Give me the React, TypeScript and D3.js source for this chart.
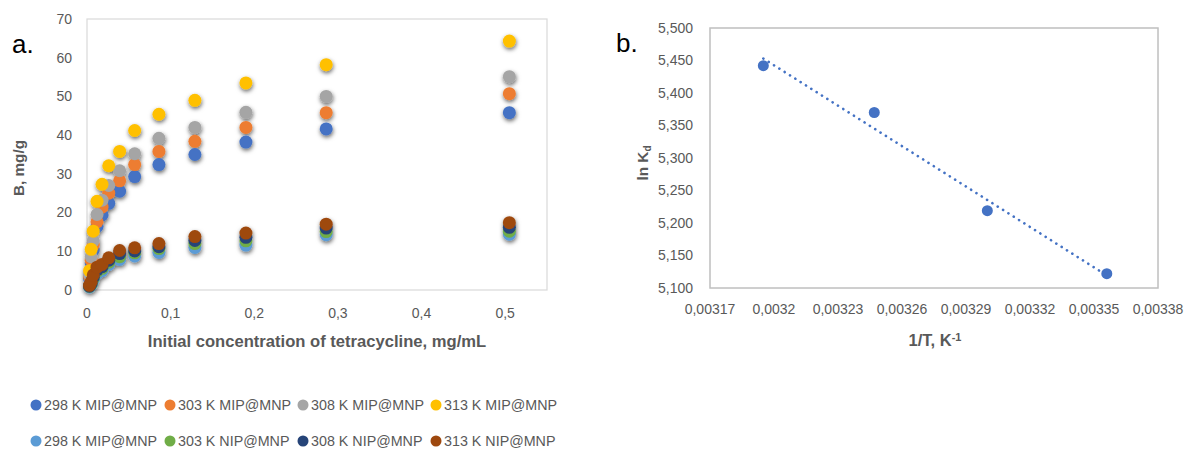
import React from "react";
import * as d3 from "d3";

// ---------- Data: panel a ----------
const concentrations = [0.003, 0.005, 0.0075, 0.012, 0.018, 0.026, 0.039, 0.057, 0.086, 0.129, 0.19, 0.286, 0.505];
const mip298 = [3.0, 7.0, 10.3, 16.4, 19.4, 22.4, 25.5, 29.3, 32.4, 35.0, 38.2, 41.6, 45.8];
const mip303 = [3.5, 7.7, 11.6, 17.6, 21.4, 25.0, 28.2, 32.4, 35.8, 38.4, 42.0, 45.8, 50.7];
const mip308 = [4.0, 8.6, 12.7, 19.5, 23.2, 27.0, 30.8, 35.2, 39.2, 42.0, 45.9, 50.0, 55.1];
const mip313 = [5.0, 10.5, 15.2, 22.9, 27.3, 32.1, 35.8, 41.2, 45.4, 49.0, 53.5, 58.2, 64.3];
const nip298 = [0.8, 1.3, 2.6, 4.3, 5.0, 6.6, 7.9, 8.8, 9.7, 11.0, 11.6, 14.3, 14.4];
const nip303 = [0.9, 1.5, 3.0, 4.8, 5.6, 7.2, 8.6, 9.6, 10.7, 12.0, 12.7, 15.1, 15.2];
const nip308 = [1.0, 1.7, 3.3, 5.2, 6.0, 7.7, 9.4, 10.1, 11.2, 12.8, 13.6, 16.0, 16.2];
const nip313 = [1.2, 2.1, 3.9, 5.9, 6.6, 8.3, 10.2, 10.9, 12.0, 13.8, 14.7, 17.0, 17.4];

const seriesNames = [
  "298 K MIP@MNP", "303 K MIP@MNP", "308 K MIP@MNP", "313 K MIP@MNP",
  "298 K MIP@MNP", "303 K NIP@MNP", "308 K NIP@MNP", "313 K NIP@MNP",
];
const seriesValues = [mip298, mip303, mip308, mip313, nip298, nip303, nip308, nip313];
const seriesColors = ["#4472C4", "#ED7D31", "#A5A5A5", "#FFC000", "#5B9BD5", "#70AD47", "#264478", "#9E480E"];

const xTicksA = [0, 0.1, 0.2, 0.3, 0.4, 0.5];
const xTickLabelsA = ["0", "0,1", "0,2", "0,3", "0,4", "0,5"];
const yTicksA = [0, 10, 20, 30, 40, 50, 60, 70];

// ---------- Data: panel b ----------
const invT = [0.003195, 0.003247, 0.0033, 0.003356];
const lnKd = [5.442, 5.37, 5.219, 5.122];
const xTicksB = [0.00317, 0.0032, 0.00323, 0.00326, 0.00329, 0.00332, 0.00335, 0.00338];
const xTickLabelsB = ["0,00317", "0,0032", "0,00323", "0,00326", "0,00329", "0,00332", "0,00335", "0,00338"];
const yTicksB = [5.1, 5.15, 5.2, 5.25, 5.3, 5.35, 5.4, 5.45, 5.5];
const yTickLabelsB = ["5,100", "5,150", "5,200", "5,250", "5,300", "5,350", "5,400", "5,450", "5,500"];

const FONT = "'Liberation Sans', Arial, sans-serif";
const GRAY_TEXT = "#595959";

export default function App() {
  // Panel a scales
  const xA = d3.scaleLinear().domain([0, 0.55]).range([87, 547]);
  const yA = d3.scaleLinear().domain([0, 70]).range([290, 19]);
  // Panel b scales
  const xB = d3.scaleLinear().domain([0.00317, 0.00338]).range([710, 1158]);
  const yB = d3.scaleLinear().domain([5.1, 5.5]).range([288, 28]);

  // Linear trendline for panel b
  const mx = d3.mean(invT) as number;
  const my = d3.mean(lnKd) as number;
  let sxy = 0, sxx = 0;
  invT.forEach((x, i) => { sxy += (x - mx) * (lnKd[i] - my); sxx += (x - mx) * (x - mx); });
  const slope = sxy / sxx;
  const icpt = my - slope * mx;
  const x0 = d3.min(invT) as number;
  const x1 = d3.max(invT) as number;
  const trend = d3.line<number>().x((d) => xB(d)).y((d) => yB(icpt + slope * d))([x0, x1]) as string;

  const legendX = [36, 170, 303, 436];
  const legendY = [405, 441];

  return (
    <svg width={1188} height={450} style={{ position: "absolute", left: 0, top: 0, background: "#fff" }} fontFamily={FONT}>
      <defs>
        <filter id="shadow" x="-100%" y="-100%" width="300%" height="300%">
          <feDropShadow dx="0.5" dy="2" stdDeviation="2.2" floodColor="#000" floodOpacity="0.6" />
        </filter>
      </defs>
      <rect x={0} y={0} width={1188} height={450} fill="#fff" />

      {/* ---------- Panel a ---------- */}
      <text x={12} y={53} fontSize={26} fill="#000">a.</text>
      <rect x={xA(0)} y={yA(70)} width={xA(0.55) - xA(0)} height={yA(0) - yA(70)} fill="none" stroke="#d9d9d9" strokeWidth={1.2} />
      {yTicksA.map((t) => (
        <text key={"ya" + t} x={72} y={yA(t)} dy="0.35em" textAnchor="end" fontSize={14} fill={GRAY_TEXT}>{t}</text>
      ))}
      {xTicksA.map((t, i) => (
        <text key={"xa" + t} x={xA(t)} y={313} dy="0.35em" textAnchor="middle" fontSize={14} fill={GRAY_TEXT}>{xTickLabelsA[i]}</text>
      ))}
      <text x={317} y={341} dy="0.35em" textAnchor="middle" fontSize={16.6} fontWeight="bold" fill={GRAY_TEXT}>
        Initial concentration of tetracycline, mg/mL
      </text>
      <text transform="translate(19,168) rotate(-90)" textAnchor="middle" dy="0.35em" fontSize={15.3} fontWeight="bold" fill={GRAY_TEXT}>
        B, mg/g
      </text>
      <g filter="url(#shadow)">
        {seriesValues.map((vals, si) => (
          <g key={"s" + si}>
            {vals.map((v, i) => (
              <circle key={i} cx={xA(concentrations[i])} cy={yA(v)} r={6.5} fill={seriesColors[si]} />
            ))}
          </g>
        ))}
      </g>

      {/* Legend */}
      {seriesNames.map((name, i) => {
        const row = Math.floor(i / 4);
        const col = i % 4;
        return (
          <g key={"lg" + i}>
            <circle cx={legendX[col]} cy={legendY[row]} r={5.5} fill={seriesColors[i]} />
            <text x={legendX[col] + 8} y={legendY[row]} dy="0.35em" fontSize={14.3} fill={GRAY_TEXT}>{name}</text>
          </g>
        );
      })}

      {/* ---------- Panel b ---------- */}
      <text x={616} y={52} fontSize={26} fill="#000">b.</text>
      <rect x={xB(0.00317)} y={yB(5.5)} width={xB(0.00338) - xB(0.00317)} height={yB(5.1) - yB(5.5)} fill="none" stroke="#bfbfbf" strokeWidth={1.5} />
      {yTicksB.map((t, i) => (
        <text key={"yb" + i} x={693} y={yB(t)} dy="0.35em" textAnchor="end" fontSize={14} fill={GRAY_TEXT}>{yTickLabelsB[i]}</text>
      ))}
      {xTicksB.map((t, i) => (
        <text key={"xb" + i} x={xB(t)} y={309} dy="0.35em" textAnchor="middle" fontSize={14} fill={GRAY_TEXT}>{xTickLabelsB[i]}</text>
      ))}
      <text x={935} y={340} dy="0.35em" textAnchor="middle" fontSize={16.5} fontWeight="bold" fill={GRAY_TEXT}>
        1/T, K<tspan dy="-0.45em" fontSize={11}>-1</tspan>
      </text>
      <text transform="translate(643,163) rotate(-90)" textAnchor="middle" dy="0.35em" fontSize={15.3} fontWeight="bold" fill={GRAY_TEXT}>
        ln K<tspan dy="0.3em" fontSize={10}>d</tspan>
      </text>
      <path d={trend} fill="none" stroke="#4472C4" strokeWidth={2.6} strokeDasharray="0.1 6.2" strokeLinecap="round" />
      {invT.map((x, i) => (
        <circle key={"pb" + i} cx={xB(x)} cy={yB(lnKd[i])} r={5.5} fill="#4472C4" />
      ))}
    </svg>
  );
}
